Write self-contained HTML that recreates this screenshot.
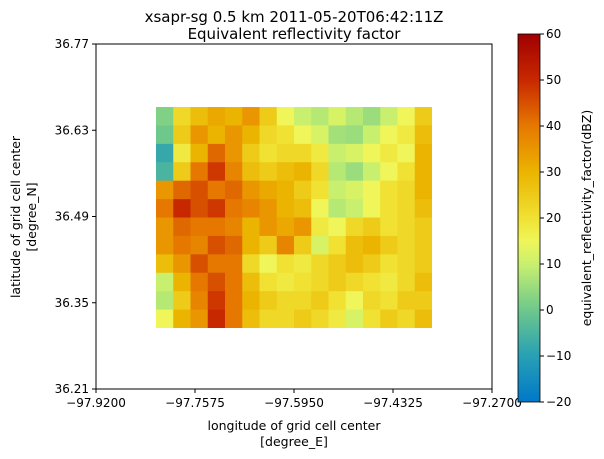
<!DOCTYPE html>
<html><head><meta charset="utf-8"><style>
body{margin:0;background:#fff;}
svg{display:block;font-family:"DejaVu Sans","Liberation Sans",sans-serif;}
</style></head><body>
<svg id="chart" width="604" height="459" viewBox="0 0 604 459">
<defs>
<linearGradient id="cb" x1="0" y1="1" x2="0" y2="0">
<stop offset="0" stop-color="rgb(0,120,200)"/><stop offset="0.125" stop-color="rgb(40,160,180)"/>
<stop offset="0.25" stop-color="rgb(110,200,140)"/><stop offset="0.375" stop-color="rgb(200,240,110)"/>
<stop offset="0.4375" stop-color="rgb(240,245,90)"/><stop offset="0.5" stop-color="rgb(240,225,50)"/>
<stop offset="0.625" stop-color="rgb(235,180,0)"/><stop offset="0.75" stop-color="rgb(230,120,0)"/>
<stop offset="0.875" stop-color="rgb(200,40,0)"/><stop offset="1" stop-color="rgb(160,0,0)"/>
</linearGradient>
</defs>
<text x="294" y="22" text-anchor="middle" font-size="15">xsapr-sg 0.5 km 2011-05-20T06:42:11Z</text>
<text x="294" y="39" text-anchor="middle" font-size="15">Equivalent reflectivity factor</text>
<g id="cells"></g>
<rect x="96" y="44" width="396" height="345" fill="none" stroke="#000" stroke-width="1"/>
<g id="axes"></g>
<text x="294" y="430" text-anchor="middle" font-size="12.5">longitude of grid cell center</text>
<text x="294" y="446" text-anchor="middle" font-size="12.5">[degree_E]</text>
<text transform="translate(20,217) rotate(-90)" text-anchor="middle" font-size="12.5">latitude of grid cell center</text>
<text transform="translate(36,217) rotate(-90)" text-anchor="middle" font-size="12.5">[degree_N]</text>
<rect x="518" y="34" width="22" height="368" fill="url(#cb)" stroke="#000" stroke-width="0.8"/>
<text transform="translate(591,218) rotate(-90)" text-anchor="middle" font-size="12.5">equivalent_reflectivity_factor(dBZ)</text>
</svg>
<script>
const xTicks=[-97.92,-97.7575,-97.595,-97.4325,-97.27];
const xTickLabels=["−97.9200","−97.7575","−97.5950","−97.4325","−97.2700"];
const yTicks=[36.21,36.35,36.49,36.63,36.77];
const yTickLabels=["36.21","36.35","36.49","36.63","36.77"];
const cbTicks=[-20,-10,0,10,20,30,40,50,60];
const lonStart=-97.8215, lonEnd=-97.3685, latStart=36.309, latEnd=36.6677;
const grid=[
[2,22,28,32,30,35,25,15,10,8,12,8,5,10,15,25],
[0,25,35,30,35,30,22,20,15,12,6,5,10,15,18,28],
[-8,18,30,42,35,25,20,22,22,18,10,12,15,18,15,30],
[-5,25,40,48,38,28,25,28,30,22,8,5,10,15,20,30],
[35,42,45,40,42,35,32,30,25,20,10,12,15,20,22,30],
[40,50,45,48,40,38,35,30,28,15,8,10,15,20,22,28],
[35,42,40,40,38,30,35,32,35,18,15,22,25,20,22,25],
[35,40,38,45,42,30,25,38,25,12,20,28,30,25,22,25],
[28,35,45,40,40,22,15,20,18,22,25,28,25,20,22,25],
[10,30,40,45,40,28,20,18,20,22,25,22,20,18,22,28],
[8,25,38,48,40,30,25,22,22,25,20,15,22,20,25,25],
[15,30,35,50,40,28,22,22,25,22,18,12,20,25,22,28]
];
const X=v=>96+(v+97.92)/(0.65)*396;
const Y=v=>389-(v-36.21)/(0.56)*345;
const CB=v=>402-(v+20)/80*368;
const stops=[[-20,0,120,200],[-10,40,160,180],[0,110,200,140],[10,200,240,110],[15,240,245,90],[20,240,225,50],[30,235,180,0],[40,230,120,0],[50,200,40,0],[60,160,0,0]];
function col(v){v=Math.max(-20,Math.min(60,v));for(let i=0;i<stops.length-1;i++){const a=stops[i],b=stops[i+1];if(v<=b[0]){const t=(v-a[0])/(b[0]-a[0]);return`rgb(${[1,2,3].map(k=>Math.round(a[k]+t*(b[k]-a[k]))).join(',')})`;}}return'rgb(160,0,0)';}
const NS="http://www.w3.org/2000/svg";
const cells=document.getElementById('cells');
const rows=grid.length, cols=grid[0].length;
const x0=X(lonStart),x1=X(lonEnd),y0=Y(latEnd),y1=Y(latStart);
const cw=(x1-x0)/cols,ch=(y1-y0)/rows;
grid.forEach((r,i)=>r.forEach((v,j)=>{
const el=document.createElementNS(NS,'rect');
el.setAttribute('x',x0+j*cw);el.setAttribute('y',y0+i*ch);
el.setAttribute('width',cw+(j<cols-1?0.5:0));el.setAttribute('height',ch+(i<rows-1?0.5:0));
el.setAttribute('fill',col(v));


cells.appendChild(el);}));
const axes=document.getElementById('axes');
function add(tag,attrs,text){const e=document.createElementNS(NS,tag);for(const k in attrs)e.setAttribute(k,attrs[k]);if(text!==undefined)e.textContent=text;axes.appendChild(e);return e;}
xTicks.forEach((t,i)=>{const x=X(t);
add('line',{x1:x,x2:x,y1:389,y2:393,stroke:'#000'});
const e=add('text',{x:x,y:407,'text-anchor':'middle','font-size':12},xTickLabels[i]);

});
yTicks.forEach((t,i)=>{const y=Y(t);
add('line',{x1:92,x2:96,y1:y,y2:y,stroke:'#000'});
const e=add('text',{x:89,y:y+4,'text-anchor':'end','font-size':12},yTickLabels[i]);

});
cbTicks.forEach(t=>{const y=CB(t);
add('line',{x1:540,x2:544,y1:y,y2:y,stroke:'#000'});
const e=add('text',{x:546,y:y+4,'font-size':12},String(t).replace('-','−'));

});
</script>
</body></html>
